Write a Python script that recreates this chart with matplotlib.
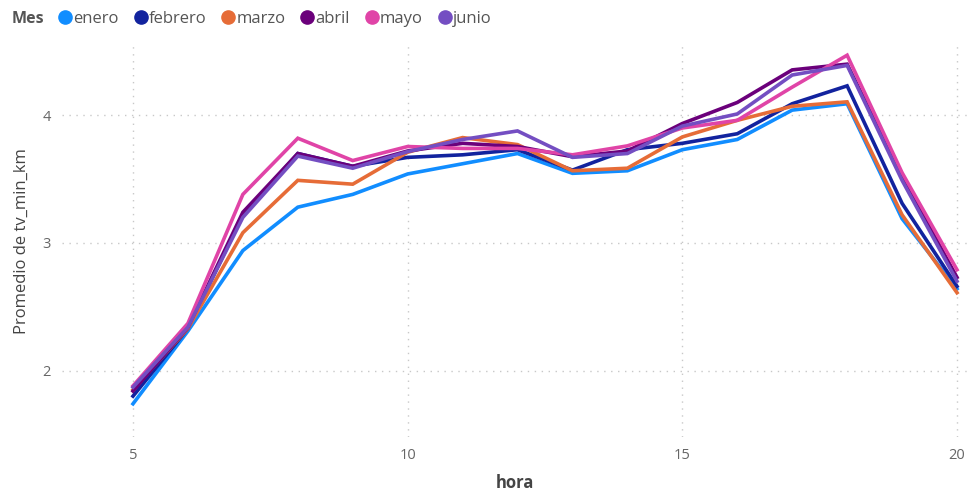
import matplotlib.pyplot as plt
from matplotlib.lines import Line2D

plt.rcParams['font.family'] = ['Open Sans', 'DejaVu Sans']

horas = [5, 6, 7, 8, 9, 10, 11, 12, 13, 14, 15, 16, 17, 18, 19, 20]

enero = [1.74, 2.31, 2.94, 3.28, 3.38, 3.54, 3.62, 3.70, 3.545, 3.565, 3.73, 3.81, 4.04, 4.09, 3.19, 2.64]
febrero = [1.80, 2.33, 3.22, 3.70, 3.60, 3.67, 3.69, 3.73, 3.57, 3.73, 3.78, 3.855, 4.09, 4.23, 3.31, 2.66]
marzo = [1.85, 2.33, 3.08, 3.49, 3.46, 3.71, 3.825, 3.77, 3.565, 3.585, 3.83, 3.96, 4.07, 4.105, 3.22, 2.61]
abril = [1.84, 2.34, 3.24, 3.70, 3.60, 3.72, 3.78, 3.755, 3.675, 3.72, 3.935, 4.10, 4.355, 4.40, 3.52, 2.73]
mayo = [1.88, 2.37, 3.38, 3.82, 3.645, 3.755, 3.74, 3.74, 3.69, 3.76, 3.90, 3.96, 4.22, 4.47, 3.55, 2.79]
junio = [1.87, 2.34, 3.20, 3.68, 3.585, 3.715, 3.81, 3.877, 3.67, 3.70, 3.915, 4.01, 4.315, 4.39, 3.49, 2.70]

meses = ['enero', 'febrero', 'marzo', 'abril', 'mayo', 'junio']
series = [enero, febrero, marzo, abril, mayo, junio]
colores = ['#118DFF', '#12239E', '#E66C37', '#6B007B', '#E044A7', '#744EC2']

W, H = 969, 492
fig = plt.figure(figsize=(W / 100, H / 100), dpi=100)
ax = fig.add_axes([62 / W, 1 - 437 / H, 905 / W, (437 - 45) / H])

for mes, vals, c in zip(meses, series, colores):
    ax.plot(horas, vals, color=c, lw=2.6, solid_joinstyle='miter', label=mes)

ax.set_xlim(3.7075, 20.182)
ax.set_ylim(1.48, 4.55)
ax.set_xticks([5, 10, 15, 20])
ax.set_yticks([2, 3, 4])
ax.grid(True, color='#C8C8C8', linestyle=(0, (1, 4)), lw=1)
ax.set_axisbelow(True)
for s in ax.spines.values():
    s.set_visible(False)
ax.tick_params(length=0, labelsize=10.5, labelcolor='#666666', pad=8)

ax.set_xlabel('hora', fontsize=12, fontweight='bold', color='#444444', labelpad=8)
ax.set_ylabel('Promedio de tv_min_km', fontsize=12, color='#444444', labelpad=9)

fig.text(12 / W, 1 - 19 / H, 'Mes', fontsize=11.5, fontweight='bold', color='#555555', va='center')
handles = [Line2D([], [], marker='o', ls='', color=c, markersize=9.5) for c in colores]
fig.legend(handles, meses, loc='center left', bbox_to_anchor=(59 / W, 1 - 19 / H), ncol=6,
           frameon=False, handlelength=0.75, handletextpad=0.1, columnspacing=0.95,
           borderaxespad=0, borderpad=0, fontsize=12, labelcolor='#555555')

fig.savefig('out.png', dpi=100)
